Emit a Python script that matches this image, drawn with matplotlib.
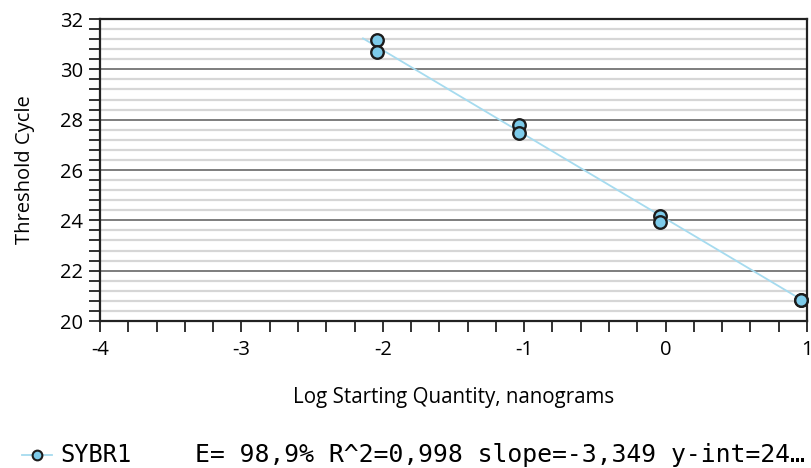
import matplotlib
matplotlib.use("Agg")
import matplotlib.pyplot as plt
from matplotlib.ticker import MultipleLocator
from matplotlib.lines import Line2D

plt.rcParams['font.family'] = ['Open Sans', 'DejaVu Sans']
plt.rcParams['axes.unicode_minus'] = False

# standard curve points (log quantity, Ct)
log_qty = [-2.04, -2.04, -1.04, -1.04, -0.04, -0.04, 0.96, 0.96]
ct = [31.17, 30.68, 27.79, 27.46, 24.19, 23.92, 20.85, 20.84]

# fitted line ends
fit_x = [-2.14, 0.96]
fit_y = [31.23, 20.85]

series_name = "SYBR1"
stats_text = "E= 98,9% R^2=0,998 slope=-3,349 y-int=24\u2026"

fig = plt.figure(figsize=(8.11, 4.68), dpi=100)
ax = fig.add_axes([100/811, 1-321/468, 707/811, 302/468])

ax.set_xlim(-4, 1)
ax.set_ylim(20, 32)
ax.xaxis.set_major_locator(MultipleLocator(1))
ax.xaxis.set_minor_locator(MultipleLocator(0.2))
ax.yaxis.set_major_locator(MultipleLocator(2))
ax.yaxis.set_minor_locator(MultipleLocator(0.4))

ax.grid(True, which="minor", axis="y", color="#d6d6d6", lw=1.6)
ax.grid(True, which="major", axis="y", color="#5a5a5a", lw=1.1)
ax.set_axisbelow(True)

for s in ax.spines.values():
    s.set_color("#222222")
    s.set_linewidth(1.6)

ax.tick_params(which="both", direction="out", length=8, width=1.3, color="#222222",
               labelsize=14.5, pad=4)
ax.tick_params(axis="x", pad=6)

ax.plot(fit_x, fit_y, color="#a6dbef", lw=1.3, zorder=3)
ax.plot(log_qty, ct, ls="none", marker="o", ms=9, mfc="#7dcbea", mec="#1c1c1c",
        mew=1.7, zorder=4, clip_on=False)

ax.set_ylabel("Threshold Cycle", fontsize=14.5, labelpad=18)
ax.set_xlabel("Log Starting Quantity, nanograms", fontsize=14.8, labelpad=19)

# legend entry at bottom
fig.add_artist(Line2D([22/811, 52/811], [1-455/468]*2, transform=fig.transFigure,
                      color="#a6dbef", lw=1.3))
fig.add_artist(Line2D([37/811], [1-455/468], transform=fig.transFigure, ls="none",
                      marker="o", ms=7, mfc="#7dcbea", mec="#1c1c1c", mew=1.5))
fig.text(60/811, 1-455/468, series_name, family="DejaVu Sans Mono", fontsize=17,
         va="center", ha="left")
fig.text(195/811, 1-455/468, stats_text, family="DejaVu Sans Mono", fontsize=17.8,
         va="center", ha="left")

fig.savefig("out.png", dpi=100)
